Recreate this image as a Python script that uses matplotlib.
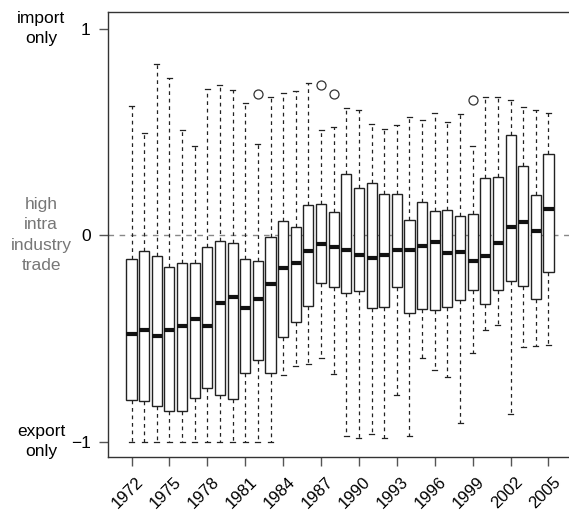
import matplotlib
matplotlib.use("Agg")
import matplotlib.pyplot as plt
from matplotlib.transforms import ScaledTranslation

plt.rcParams['font.family'] = ['Liberation Sans', 'DejaVu Sans']

years = list(range(1972, 2006))
whis_lo = [-1, -1, -1, -1, -1, -1, -1, -1, -1, -1, -1, -1,
           -0.680, -0.636, -0.626, -0.597, -0.675, -0.971, -0.981, -0.966, -0.981, -0.777,
           -0.971, -0.597, -0.655, -0.689, -0.908, -0.573, -0.461, -0.437, -0.869, -0.544,
           -0.539, -0.534]
q1 = [-0.801, -0.806, -0.830, -0.850, -0.854, -0.791, -0.743, -0.777, -0.796, -0.670,
      -0.607, -0.670, -0.495, -0.422, -0.345, -0.233, -0.252, -0.282, -0.272, -0.354,
      -0.350, -0.252, -0.379, -0.359, -0.364, -0.350, -0.316, -0.267, -0.335, -0.267,
      -0.223, -0.248, -0.311, -0.180]
med = [-0.481, -0.461, -0.490, -0.461, -0.442, -0.408, -0.442, -0.330, -0.301, -0.354,
       -0.311, -0.238, -0.160, -0.136, -0.078, -0.044, -0.058, -0.073, -0.097, -0.112,
       -0.097, -0.073, -0.073, -0.053, -0.034, -0.087, -0.083, -0.126, -0.102, -0.039,
       0.039, 0.063, 0.019, 0.126]
q3 = [-0.117, -0.078, -0.102, -0.155, -0.136, -0.136, -0.058, -0.029, -0.039, -0.117,
      -0.126, -0.010, 0.068, 0.039, 0.146, 0.150, 0.112, 0.296, 0.228, 0.252,
      0.199, 0.199, 0.073, 0.160, 0.117, 0.121, 0.092, 0.102, 0.277, 0.282,
      0.485, 0.335, 0.194, 0.393]
whis_hi = [0.626, 0.495, 0.830, 0.762, 0.510, 0.432, 0.709, 0.728, 0.704, 0.641,
           0.442, 0.670, 0.689, 0.699, 0.738, 0.510, 0.524, 0.617, 0.607, 0.539,
           0.515, 0.534, 0.573, 0.558, 0.592, 0.549, 0.587, 0.432, 0.670, 0.670,
           0.655, 0.621, 0.607, 0.592]
outliers = {1982: [0.684], 1987: [0.728], 1988: [0.684], 1999: [0.655]}

tick_years = list(range(1972, 2006, 3))
y_ticks = [-1, 0, 1]
y_tick_labels = ["\u22121", "0", "1"]

W, H = 569, 514
fig = plt.figure(figsize=(W / 100, H / 100), dpi=100)
ax = fig.add_axes([108 / W, 1 - 457 / H, 464 / W, 445 / H])

stats = []
for i, y in enumerate(years):
    stats.append(dict(med=med[i], q1=q1[i], q3=q3[i], whislo=whis_lo[i],
                      whishi=whis_hi[i], fliers=outliers.get(y, []), label=str(y)))
positions = list(range(1, len(years) + 1))

ax.axhline(0, color='#888888', lw=1.0, ls=(0, (4, 4)), zorder=0)

ax.bxp(stats, positions=positions, widths=0.8, patch_artist=True,
       boxprops=dict(facecolor='white', edgecolor='#222222', linewidth=1.0),
       medianprops=dict(color='#111111', linewidth=3.0, solid_capstyle='butt'),
       whiskerprops=dict(color='#222222', linewidth=0.9, linestyle=(0, (3, 3))),
       capprops=dict(color='#222222', linewidth=0.9),
       capwidths=0.4,
       flierprops=dict(marker='o', markerfacecolor='none', markeredgecolor='#333333',
                       markersize=6.5, markeredgewidth=0.9),
       showfliers=True, manage_ticks=False)

n = len(years)
ax.set_xlim(0.5 - 0.04 * n, n + 0.5 + 0.04 * n)
ax.set_ylim(-1.075, 1.08)

ax.set_xticks([years.index(y) + 1 for y in tick_years])
ax.set_xticklabels([str(y) for y in tick_years], rotation=45, ha='right', va='top',
                   rotation_mode='anchor', fontsize=12)
ax.set_yticks(y_ticks)
ax.set_yticklabels(y_tick_labels, fontsize=12.5)
ax.tick_params(axis='both', length=6.5, width=1.0, color='#555555', pad=6)
ax.tick_params(axis='x', pad=6)
shift = ScaledTranslation(4 / 100, 0, fig.dpi_scale_trans)
for lab in ax.get_xticklabels():
    lab.set_transform(lab.get_transform() + shift)
for s in ax.spines.values():
    s.set_color('#333333')
    s.set_linewidth(1.0)

tx = -0.144
ax.text(tx, 1, "import\nonly", transform=ax.get_yaxis_transform(),
        ha='center', va='center', fontsize=12.5, linespacing=1.45)
ax.text(tx, 0, "high\nintra\nindustry\ntrade", transform=ax.get_yaxis_transform(),
        ha='center', va='center', fontsize=12.5, color='#777777', linespacing=1.45)
ax.text(tx, -1, "export\nonly", transform=ax.get_yaxis_transform(),
        ha='center', va='center', fontsize=12.5, linespacing=1.45)

fig.savefig("out.png", dpi=100)
